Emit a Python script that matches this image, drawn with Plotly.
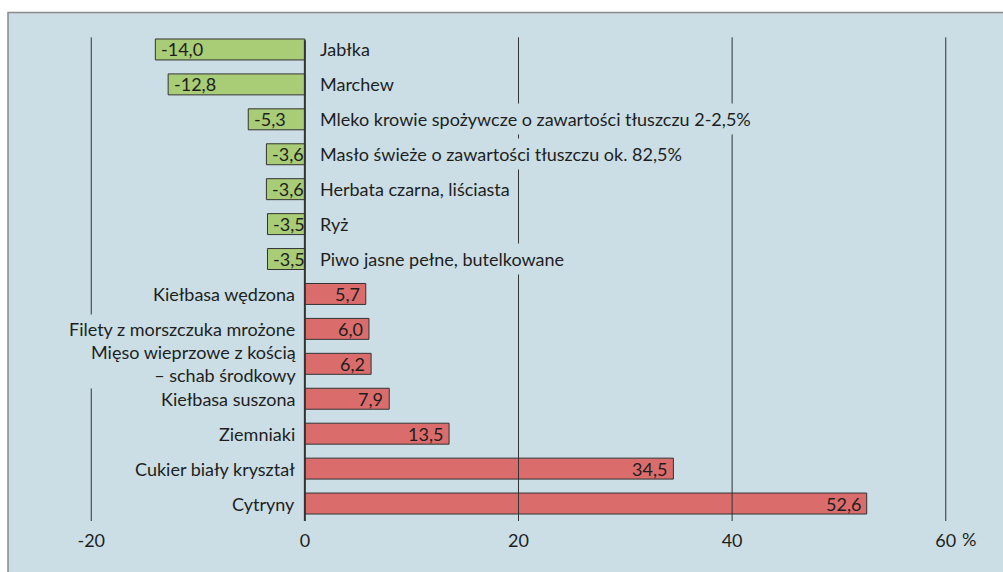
import plotly.graph_objects as go

categories = ["Jabłka", "Marchew", "Mleko krowie spożywcze o zawartości tłuszczu 2-2,5%",
              "Masło świeże o zawartości tłuszczu ok. 82,5%", "Herbata czarna, liściasta",
              "Ryż", "Piwo jasne pełne, butelkowane", "Kiełbasa wędzona",
              "Filety z morszczuka mrożone", "Mięso wieprzowe z kością<br>– schab środkowy",
              "Kiełbasa suszona", "Ziemniaki", "Cukier biały kryształ", "Cytryny"]
values = [-14.0, -12.8, -5.3, -3.6, -3.6, -3.5, -3.5, 5.7, 6.0, 6.2, 7.9, 13.5, 34.5, 52.6]
tick_vals = [-20, 0, 20, 40, 60]
tick_text = ["-20", "0", "20", "40", "60"]

BG = "#cbdee5"
GREEN = "#a9cc76"
RED = "#db6c6c"
TXT = "#1e1e1e"
FONT = "Lato"
FS = 18

colors = [GREEN if v < 0 else RED for v in values]

fig = go.Figure()
fig.add_trace(go.Bar(
    x=values, y=categories, orientation="h",
    marker=dict(color=colors, line=dict(color="#333333", width=1)),
    width=0.6, hoverinfo="skip",
))

value_anns = []
label_anns = []
for cat, v in zip(categories, values):
    lbl = f"{v:.1f}".replace(".", ",")
    two = "<br>" in cat
    if v < 0:
        value_anns.append(dict(x=v, y=cat, xref="x", yref="y", text=lbl,
                               showarrow=False, xanchor="left", xshift=4,
                               font=dict(family=FONT, size=FS, color=TXT)))
        label_anns.append(dict(x=0, y=cat, xref="x", yref="y", text=cat,
                               showarrow=False, xanchor="left", xshift=10,
                               bgcolor=BG, borderpad=4,
                               font=dict(family=FONT, size=FS, color=TXT)))
    else:
        value_anns.append(dict(x=v, y=cat, xref="x", yref="y", text=lbl,
                               showarrow=False, xanchor="right", xshift=-4,
                               font=dict(family=FONT, size=FS, color=TXT)))
        ann = dict(x=0, y=cat, xref="x", yref="y", text=cat,
                   showarrow=False, xanchor="right", xshift=-6, align="right",
                   bgcolor=BG, borderpad=2 if two else 3,
                   font=dict(family=FONT, size=FS, color=TXT))
        if two:
            label_anns.insert(0, ann)
        else:
            label_anns.append(ann)

extra = [dict(x=60, y=-0.0378, xref="x", yref="paper", text="%", showarrow=False,
              xanchor="left", yanchor="middle", xshift=14,
              font=dict(family=FONT, size=FS, color=TXT))]

shapes = [
    dict(type="rect", xref="paper", yref="paper", x0=-0.001, x1=1.01, y0=-0.12, y1=1.0398,
         fillcolor=BG, line=dict(color="#8a8a8a", width=1.5), layer="below"),
]
for t in [-20, 20, 40, 60]:
    shapes.append(dict(type="line", xref="x", yref="paper", x0=t, x1=t, y0=0, y1=0.989,
                       line=dict(color="#333333", width=1), layer="above"))
shapes.append(dict(type="line", xref="x", yref="paper", x0=0, x1=0, y0=0, y1=0.983,
                   line=dict(color="#333333", width=2), layer="above"))

fig.update_layout(
    width=1003, height=572,
    margin=dict(l=9, r=0, t=31.5, b=50.5),
    paper_bgcolor="white", plot_bgcolor=BG,
    showlegend=False,
    xaxis=dict(range=[-27.7, 65.36], tickvals=tick_vals, ticktext=tick_text,
               showgrid=False, zeroline=False, ticks="", ticklabelstandoff=7,
               tickfont=dict(family=FONT, size=FS, color=TXT), fixedrange=True),
    yaxis=dict(autorange="reversed", showticklabels=False, showgrid=False,
               zeroline=False, ticks="", fixedrange=True),
    shapes=shapes, annotations=label_anns + value_anns + extra,
)

fig.write_html("out.html", config={"displayModeBar": False},
               post_script="document.body.style.margin='0px';document.body.style.overflow='hidden';")
